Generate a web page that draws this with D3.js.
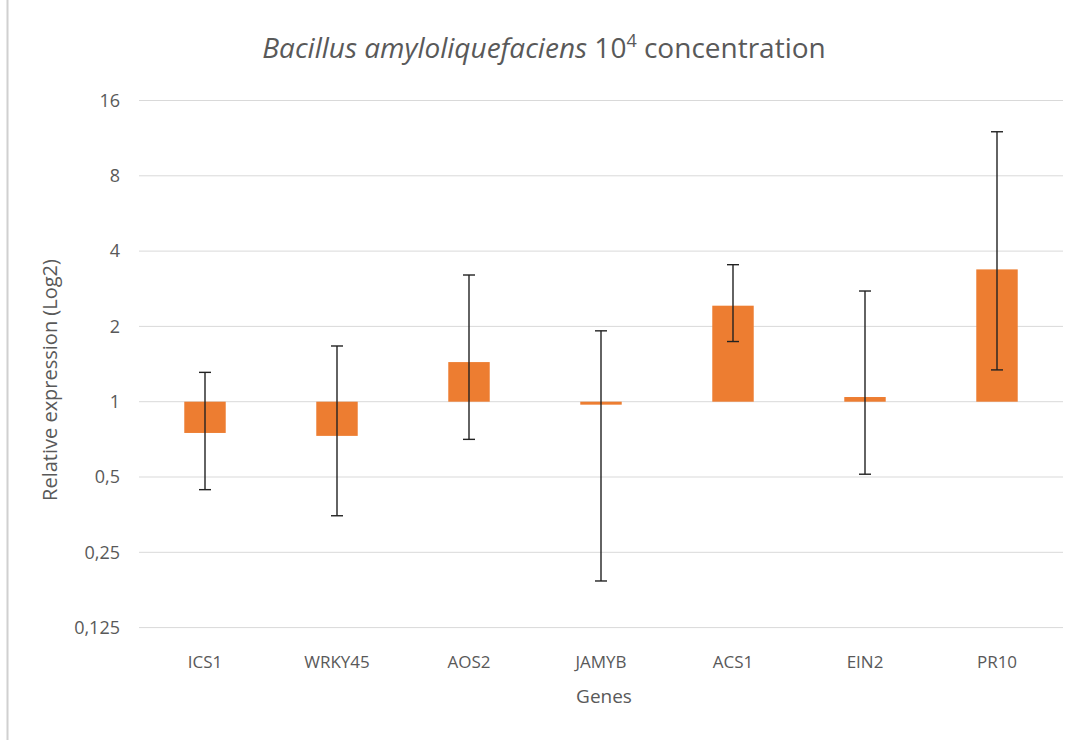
<!DOCTYPE html>
<html>
<head>
<meta charset="utf-8">
<script src="https://cdnjs.cloudflare.com/ajax/libs/d3/7.8.5/d3.min.js"></script>
<style>
  body { margin: 0; background: #fff; }
  text { font-family: "Open Sans", "Noto Sans", sans-serif; fill: #595959; }
</style>
</head>
<body>
<svg id="chart" width="1079" height="740"></svg>
<script>
// datos
const genes = ['ICS1', 'WRKY45', 'AOS2', 'JAMYB', 'ACS1', 'EIN2', 'PR10'];
const values = [0.75, 0.73, 1.44, 0.973, 2.42, 1.044, 3.38];
const errUpper = [1.31, 1.67, 3.21, 1.92, 3.53, 2.77, 12];
const errLower = [0.445, 0.35, 0.707, 0.192, 1.74, 0.513, 1.34];
const yTicks = [0.125, 0.25, 0.5, 1, 2, 4, 8, 16];
const yTickLabels = ['0,125', '0,25', '0,5', '1', '2', '4', '8', '16'];

const svg = d3.select('#chart');

const x = d3.scaleBand().domain(genes).range([139, 1063]).paddingInner(0.686).paddingOuter(0.343);
const y = d3.scaleLog().base(2).domain([0.125, 16]).range([627.6, 100.5]);

// borde izquierdo
svg.append('line')
  .attr('x1', 7.5).attr('x2', 7.5).attr('y1', 0).attr('y2', 740)
  .attr('stroke', '#d0d0d0').attr('stroke-width', 2);

// líneas de cuadrícula
svg.append('g')
  .selectAll('line')
  .data(yTicks)
  .join('line')
  .attr('x1', 139).attr('x2', 1063)
  .attr('y1', (d) => y(d)).attr('y2', (d) => y(d))
  .attr('stroke', '#d9d9d9').attr('stroke-width', 1);

// etiquetas eje Y
svg.append('g')
  .selectAll('text')
  .data(yTicks)
  .join('text')
  .attr('x', 120)
  .attr('y', (d) => y(d))
  .attr('dy', '0.35em')
  .attr('text-anchor', 'end')
  .style('font-size', '18px')
  .text((d, i) => yTickLabels[i]);

// barras (base en 1)
svg.append('g')
  .selectAll('rect')
  .data(values)
  .join('rect')
  .attr('x', (d, i) => x(genes[i]))
  .attr('width', x.bandwidth())
  .attr('y', (d) => Math.min(y(d), y(1)))
  .attr('height', (d) => Math.max(Math.abs(y(d) - y(1)), 2))
  .attr('fill', '#ED7D31');

// barras de error
const eg = svg.append('g').attr('stroke', '#222').attr('stroke-width', 1.4);
genes.forEach((g, i) => {
  const cx = x(g) + x.bandwidth() / 2;
  eg.append('line').attr('x1', cx).attr('x2', cx)
    .attr('y1', y(errUpper[i])).attr('y2', y(errLower[i]));
  [errUpper[i], errLower[i]].forEach((v) => {
    eg.append('line').attr('x1', cx - 6).attr('x2', cx + 6)
      .attr('y1', y(v)).attr('y2', y(v));
  });
});

// etiquetas eje X
svg.append('g')
  .selectAll('text')
  .data(genes)
  .join('text')
  .attr('x', (d) => x(d) + x.bandwidth() / 2)
  .attr('y', 668)
  .attr('text-anchor', 'middle')
  .style('font-size', '17px')
  .text((d) => d);

svg.append('text')
  .attr('x', 604).attr('y', 703)
  .attr('text-anchor', 'middle')
  .style('font-size', '19px')
  .text('Genes');

svg.append('text')
  .attr('transform', 'translate(57, 380) rotate(-90)')
  .attr('text-anchor', 'middle')
  .style('font-size', '20px')
  .text('Relative expression (Log2)');

// título
const title = svg.append('text')
  .attr('x', 544).attr('y', 58)
  .attr('text-anchor', 'middle')
  .style('font-size', '28px');
title.append('tspan').style('font-style', 'italic').text('Bacillus amyloliquefaciens');
title.append('tspan').text(' 10');
title.append('tspan').attr('dy', -11).style('font-size', '18px').text('4');
title.append('tspan').attr('dy', 11).text(' concentration');
</script>
</body>
</html>
